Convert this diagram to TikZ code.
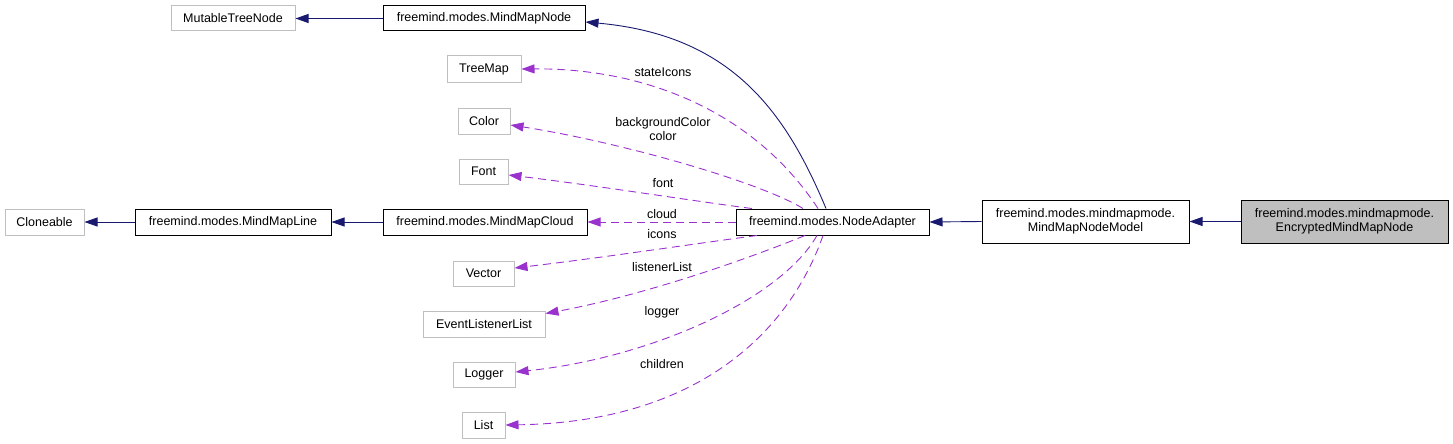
\documentclass[tikz,border=0pt]{standalone}
\usepackage{fontspec}
\setmainfont{Liberation Sans}
\usetikzlibrary{arrows.meta}
\definecolor{navy}{HTML}{191970}
\definecolor{orch}{HTML}{9A32CD}
\definecolor{gbord}{HTML}{BFBFBF}
\definecolor{gfill}{HTML}{BFBFBF}
\begin{document}
\begin{tikzpicture}[x=1pt,y=-1pt,
  box/.style={line width=1pt, inner sep=0pt, align=center, font=\fontsize{12.5}{14.5}\selectfont},
  gbox/.style={box, draw=gbord},
  bbox/.style={box, draw=black},
  lbl/.style={inner sep=0pt, align=center, font=\fontsize{12.5}{14}\selectfont},
  inh/.style={draw=navy, line width=0.9pt, -{Triangle[length=13pt,width=9pt]}},
  use/.style={draw=orch, line width=0.9pt, dash pattern=on 8pt off 5pt, -{Triangle[length=13pt,width=9pt]}},
]
\useasboundingbox (0,0) rectangle (1453,444);
% boxes
\node[gbox, minimum width=124pt, minimum height=25pt] (mtn) at (233,18.5) {MutableTreeNode};
\node[bbox, minimum width=202pt, minimum height=25pt] (mmn) at (484,18.5) {freemind.modes.MindMapNode};
\node[gbox, minimum width=74pt, minimum height=26pt] (tm) at (484,69) {TreeMap};
\node[gbox, minimum width=52pt, minimum height=26pt] (col) at (484,121) {Color};
\node[gbox, minimum width=49pt, minimum height=25pt] (fnt) at (483.5,171.5) {Font};
\node[gbox, minimum width=79pt, minimum height=26pt] (cln) at (44.5,222) {Cloneable};
\node[bbox, minimum width=196pt, minimum height=26pt] (mml) at (233,222) {freemind.modes.MindMapLine};
\node[bbox, minimum width=204pt, minimum height=26pt] (mmc) at (485,222) {freemind.modes.MindMapCloud};
\node[bbox, minimum width=193pt, minimum height=26pt] (na) at (832.5,222) {freemind.modes.NodeAdapter};
\node[bbox, minimum width=207pt, minimum height=43pt] (mmnm) at (1085.5,221.5) {freemind.modes.mindmapmode.\\MindMapNodeModel};
\node[bbox, fill=gfill, minimum width=207pt, minimum height=43pt] (emmn) at (1344.5,221.5) {freemind.modes.mindmapmode.\\EncryptedMindMapNode};
\node[gbox, minimum width=61pt, minimum height=25pt] (vec) at (483.5,273.5) {Vector};
\node[gbox, minimum width=122pt, minimum height=26pt] (ell) at (484,324) {EventListenerList};
\node[gbox, minimum width=62pt, minimum height=25pt] (lgr) at (484,374.5) {Logger};
\node[gbox, minimum width=43pt, minimum height=26pt] (lst) at (483.5,425) {List};
% inheritance
\draw[inh] (mmn.west) -- (mtn.east);
\draw[inh] (mml.west) -- (cln.east);
\draw[inh] (mmc.west) -- (mml.east);
\draw[inh] (mmnm.west) -- (na.east);
\draw[inh] (emmn.west) -- (mmnm.east);
\draw[inh] ([xshift=-6.5pt]na.north) .. controls (785,110) and (730,35) .. ([yshift=-3.5pt]mmn.east);
% usage
\draw[use] ([xshift=-14.5pt]na.north) .. controls (752,108) and (640,68) .. (tm.east);
\draw[use] ([xshift=-29.5pt]na.north) .. controls (760,182) and (620,142) .. ([yshift=-4pt]col.east);
\draw[use] ([xshift=-80.5pt]na.north) .. controls (700,202) and (600,186) .. ([yshift=-3.5pt]fnt.east);
\draw[use] (na.west) -- (mmc.east);
\draw[use] ([xshift=-75.5pt]na.south) .. controls (700,243) and (600,258) .. ([yshift=5.5pt]vec.east);
\draw[use] ([xshift=-27.5pt]na.south) .. controls (740,262) and (640,296) .. ([yshift=10.5pt]ell.east);
\draw[use] ([xshift=-15.5pt]na.south) .. controls (780,300) and (650,358) .. ([yshift=2.5pt]lgr.east);
\draw[use] ([xshift=-9.5pt]na.south) .. controls (790,330) and (700,422) .. (lst.east);
% labels
\node[lbl] (l1) at (663,72) {stateIcons};
\node[lbl] (l2) at (663,129.5) {backgroundColor\\color};
\node[lbl] (l3) at (663,183) {font};
\node[lbl] (l4) at (662,214) {cloud};
\node[lbl] (l5) at (662,234) {icons};
\node[lbl] (l6) at (662,267) {listenerList};
\node[lbl] (l7) at (662,312) {logger};
\node[lbl] (l8) at (662,364) {children};
\end{tikzpicture}
\end{document}
